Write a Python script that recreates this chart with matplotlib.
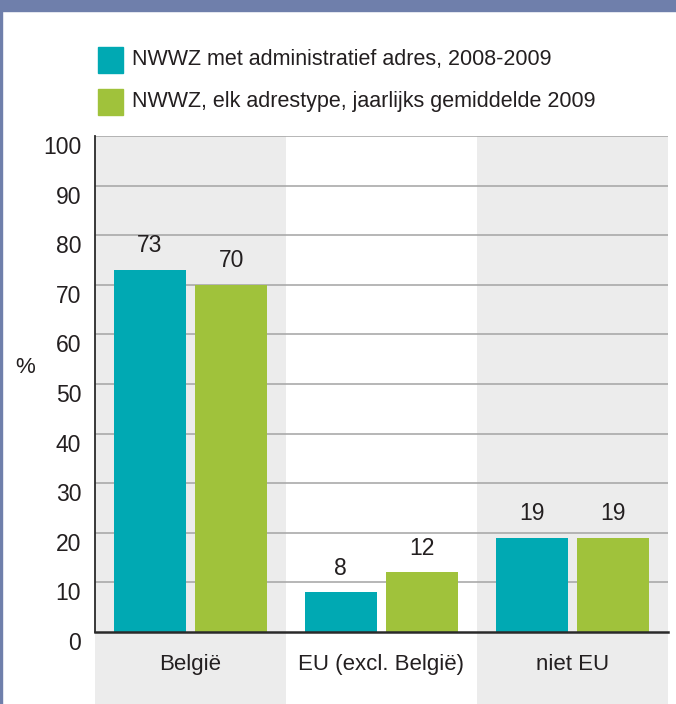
import matplotlib
matplotlib.use("Agg")
import matplotlib.pyplot as plt
from matplotlib.patches import Rectangle
import numpy as np

plt.rcParams['font.family'] = ['Liberation Sans', 'DejaVu Sans']

# data
categories = ['België', 'EU (excl. België)', 'niet EU']
series_names = ['NWWZ met administratief adres, 2008-2009',
                'NWWZ, elk adrestype, jaarlijks gemiddelde 2009']
admin_adres = [73, 8, 19]
elk_adrestype = [70, 12, 19]
yticks = list(range(0, 101, 10))

teal = '#00a9b3'
green = '#a0c23b'
band = '#ececec'
header = '#6f7fab'
txt = '#231f20'

W, H = 676, 704
fig = plt.figure(figsize=(W / 100, H / 100), dpi=100)

# axes placed in pixel terms
x0, x1, ytop, ybot = 95, 668, 136, 632
ax = fig.add_axes([x0 / W, 1 - ybot / H, (x1 - x0) / W, (ybot - ytop) / H])
ax.set_xlim(-0.5, 2.5)
ax.set_ylim(0, 100)

# alternating background bands, reaching down to bottom of the figure
below = -(1 - ybot / H) / ((ybot - ytop) / H)
for i in range(len(categories)):
    if i % 2 == 0:
        ax.axvspan(i - 0.5, i + 0.5, ymin=below, ymax=1, color=band,
                   clip_on=False, zorder=0, lw=0)

for y in yticks[1:]:
    ax.axhline(y, color='#a3a3a3', lw=1.1, zorder=1)

x = np.arange(len(categories))
w = 0.38
off = 0.213
ax.bar(x - off, admin_adres, w, color=teal, zorder=2)
ax.bar(x + off, elk_adrestype, w, color=green, zorder=2)

for xs, vals in ((x - off, admin_adres), (x + off, elk_adrestype)):
    for xi, v in zip(xs, vals):
        ax.annotate(str(v), (xi, v), xytext=(0, 9), textcoords='offset points',
                    ha='center', va='bottom', fontsize=16.5, color=txt)

ax.set_yticks(yticks)
ax.set_yticklabels([str(t) for t in yticks], fontsize=16.5, color=txt)
for lab in ax.get_yticklabels():
    lab.set_verticalalignment('top')
ax.tick_params(axis='y', length=0, pad=10)
ax.set_xticks(x)
ax.set_xticklabels(categories, fontsize=16, color=txt)
ax.tick_params(axis='x', length=0, pad=16)

for s in ('top', 'right'):
    ax.spines[s].set_visible(False)
ax.spines['left'].set_color('#2a2a2a')
ax.spines['left'].set_linewidth(1.3)
ax.spines['bottom'].set_color('#2a2a2a')
ax.spines['bottom'].set_linewidth(1.8)
ax.spines['left'].set_zorder(3)
ax.spines['bottom'].set_zorder(3)
ax.set_facecolor('none')

fig.text(25 / W, 1 - 367 / H, '%', fontsize=16, color=txt, ha='center', va='center')

# legend drawn by hand
for i, (name, col) in enumerate(zip(series_names, [teal, green])):
    top = 47 + i * 42
    fig.patches.append(Rectangle((98 / W, 1 - (top + 26) / H), 25 / W, 26 / H,
                                 transform=fig.transFigure, color=col))
    fig.text(132 / W, 1 - (top + 13) / H, name, fontsize=15.5, color=txt,
             va='center', ha='left')

# frame: header strip and thin left border
fig.patches.append(Rectangle((0, 1 - 11 / H), 1, 11 / H, transform=fig.transFigure,
                             color=header))
fig.patches.append(Rectangle((0, 0), 2 / W, 1, transform=fig.transFigure,
                             color=header))

fig.savefig('out.png', dpi=100)
